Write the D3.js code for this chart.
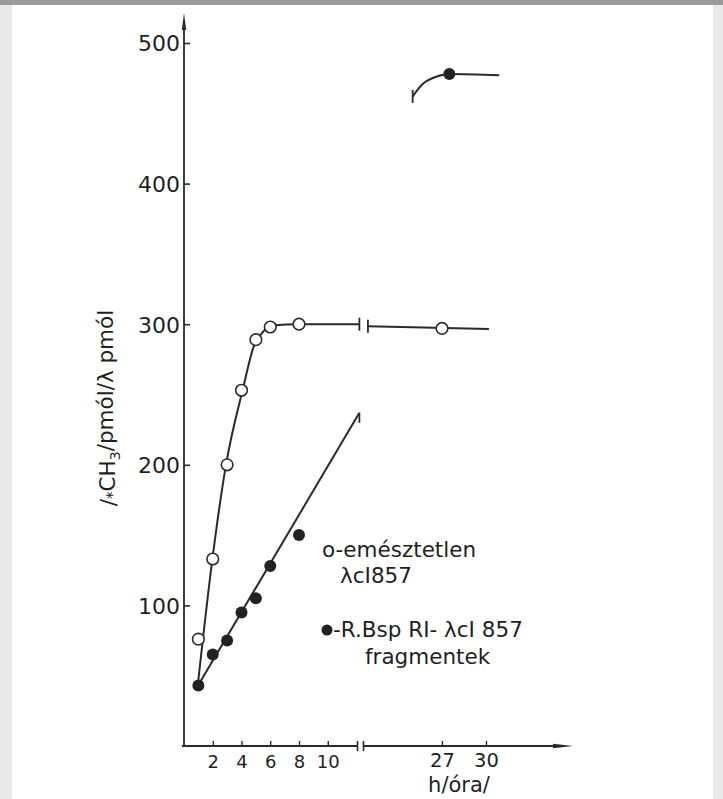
<!DOCTYPE html>
<html>
<head>
<meta charset="utf-8">
<script src="https://cdn.jsdelivr.net/npm/d3@7"></script>
<style>
  html, body { margin: 0; padding: 0; background: #ececec; }
  svg { display: block; }
  text { font-family: "DejaVu Sans", sans-serif; fill: #1f1f1f; }
</style>
</head>
<body>
<svg id="chart" width="723" height="799"></svg>
<script>
// ---------- data ----------
const hoursEarly   = [1, 2, 3, 4, 5, 6, 8];          // h, left segment
const undigested   = [76, 133, 200, 253, 289, 298, 300];
const fragments    = [43, 65, 75, 95, 105, 128, 150];
const hourLate     = [27];                            // h, right segment
const undigestedLate = [297];
const fragmentsLateHour = [27.5];
const fragmentsLate  = [478];

// hand-drawn fit curves (vertices)
const fitOpenX  = [0.95, 1.95, 2.92, 4.1, 4.85, 5.45, 6.1, 8.1, 12.2];
const fitOpenY  = [42.5, 131, 200, 254, 284, 294, 299, 300, 300];
const fitOpenLateX = [21.95, 30.2];
const fitOpenLateY = [298.5, 296.5];
const fitFilledX = [0.95, 12.2];
const fitFilledY = [42.5, 237];
const fitFilledLateX = [25.0, 25.7, 26.6, 27.5, 30.9];
const fitFilledLateY = [462, 471, 476, 478, 477];

const yTicks = [100, 200, 300, 400, 500];
const xTicksEarly = [2, 4, 6, 8, 10];
const xTicksLate = [27, 30];

const yTitle = ["/", "*", "CH", "3", "/pmól/λ pmól"];
const xTitle = "h/óra/";
const legend1 = ["o-emésztetlen", "λcI857"];
const legend2 = ["-R.Bsp RI- λcI 857", "fragmentek"];

// ---------- layout ----------
const svg = d3.select("#chart");
const ink = "#2a2a2a";

// paper
svg.append("rect").attr("x", 0).attr("y", 0).attr("width", 723).attr("height", 799).attr("fill", "#e9e9e9");
svg.append("rect").attr("x", 12).attr("y", 5).attr("width", 701).attr("height", 794).attr("fill", "#ffffff");
svg.append("rect").attr("x", 0).attr("y", 0).attr("width", 723).attr("height", 5).attr("fill", "#9a9a9a");

const y = d3.scaleLinear().domain([0, 500]).range([746, 43]);
const xL = d3.scaleLinear().domain([0, 10]).range([184, 327.75]);
const xR = d3.scaleLinear().domain([27, 30]).range([442, 486]);
const fmt = d3.format("d");

// y axis
const gy = svg.append("g").attr("transform", `translate(${xL(0)},0)`)
  .call(d3.axisLeft(y).tickValues(yTicks).tickFormat(fmt).tickSize(-6).tickPadding(4));
gy.select(".domain").remove();
gy.selectAll(".tick line").attr("stroke", ink).attr("stroke-width", 1.6);
gy.selectAll(".tick text").style("font-size", "22px").attr("fill", "#1f1f1f").attr("dy", "0.36em");
svg.append("line").attr("x1", xL(0)).attr("x2", xL(0)).attr("y1", y(0)).attr("y2", 22)
  .attr("stroke", ink).attr("stroke-width", 1.8);
svg.append("path").attr("d", `M${xL(0)},13 L${xL(0)-2.2},30 L${xL(0)+2.2},30 Z`).attr("fill", ink);

// x axis (broken)
const gxL = svg.append("g").attr("transform", `translate(0,${y(0)})`)
  .call(d3.axisBottom(xL).tickValues(xTicksEarly).tickFormat(fmt).tickSize(-5).tickPadding(9));
gxL.select(".domain").remove();
gxL.selectAll(".tick line").attr("stroke", ink).attr("stroke-width", 1.4);
gxL.selectAll(".tick text").style("font-size", "18px").attr("fill", "#1f1f1f");

const gxR = svg.append("g").attr("transform", `translate(0,${y(0)})`)
  .call(d3.axisBottom(xR).tickValues(xTicksLate).tickFormat(fmt).tickSize(-5).tickPadding(7));
gxR.select(".domain").remove();
gxR.selectAll(".tick line").attr("stroke", ink).attr("stroke-width", 1.4);
gxR.selectAll(".tick text").style("font-size", "19.5px").attr("fill", "#1f1f1f");

const ax0 = y(0);
svg.append("line").attr("x1", xL(0) - 2).attr("x2", 357.5).attr("y1", ax0).attr("y2", ax0).attr("stroke", ink).attr("stroke-width", 1.8);
svg.append("line").attr("x1", 363.5).attr("x2", 558).attr("y1", ax0).attr("y2", ax0).attr("stroke", ink).attr("stroke-width", 1.8);
[357.5, 363.5].forEach(bx => svg.append("line").attr("x1", bx).attr("x2", bx).attr("y1", ax0 - 5).attr("y2", ax0 + 5).attr("stroke", ink).attr("stroke-width", 1.6));
svg.append("path").attr("d", `M573,${ax0} L553,${ax0-2.3} L553,${ax0+2.3} Z`).attr("fill", ink);

// axis titles
svg.append("text").attr("x", 459).attr("y", 792).attr("text-anchor", "middle").style("font-size", "21px").text(xTitle);
const yt = svg.append("text").attr("transform", "translate(116,408) rotate(-90)").attr("text-anchor", "middle").style("font-size", "21.5px");
yt.append("tspan").text(yTitle[0]);
yt.append("tspan").attr("dy", "0.1em").style("font-size", "15px").text(yTitle[1]);
yt.append("tspan").attr("dy", "-0.1em").text(yTitle[2]);
yt.append("tspan").attr("dy", "0.3em").style("font-size", "14px").text(yTitle[3]);
yt.append("tspan").attr("dy", "-0.3em").text(yTitle[4]);

// fit lines
const lineL = d3.line().x(d => xL(d[0])).y(d => y(d[1])).curve(d3.curveMonotoneX);
const lineR = d3.line().x(d => xR(d[0])).y(d => y(d[1])).curve(d3.curveMonotoneX);
const zip = (a, b) => a.map((v, i) => [v, b[i]]);

svg.append("path").attr("d", lineL(zip(fitOpenX, fitOpenY))).attr("fill", "none").attr("stroke", ink).attr("stroke-width", 2);
svg.append("path").attr("d", lineR(zip(fitOpenLateX, fitOpenLateY))).attr("fill", "none").attr("stroke", ink).attr("stroke-width", 2);
svg.append("path").attr("d", lineL(zip(fitFilledX, fitFilledY))).attr("fill", "none").attr("stroke", ink).attr("stroke-width", 2);
svg.append("path").attr("d", lineR(zip(fitFilledLateX, fitFilledLateY))).attr("fill", "none").attr("stroke", ink).attr("stroke-width", 2);

// break bars on curves
function bar(px, py, h) {
  svg.append("line").attr("x1", px).attr("x2", px).attr("y1", py - h).attr("y2", py + h).attr("stroke", ink).attr("stroke-width", 1.8);
}
bar(xL(fitOpenX[fitOpenX.length - 1]), y(fitOpenY[fitOpenY.length - 1]), 6.5);
bar(xR(fitOpenLateX[0]), y(fitOpenLateY[0]), 6.5);
bar(xL(fitFilledX[1]), y(fitFilledY[1]) + 5, 5);
bar(xR(fitFilledLateX[0]), y(fitFilledLateY[0]), 6.5);

// markers
const openPts = zip(hoursEarly, undigested).map(d => [xL(d[0]), y(d[1])])
  .concat(zip(hourLate, undigestedLate).map(d => [xR(d[0]), y(d[1])]));
const filledPts = zip(hoursEarly, fragments).map(d => [xL(d[0]), y(d[1])])
  .concat(zip(fragmentsLateHour, fragmentsLate).map(d => [xR(d[0]), y(d[1])]));

svg.append("g").selectAll("circle").data(openPts).join("circle")
  .attr("cx", d => d[0]).attr("cy", d => d[1]).attr("r", 5.8)
  .attr("fill", "#fff").attr("stroke", ink).attr("stroke-width", 1.6);
svg.append("g").selectAll("circle").data(filledPts).join("circle")
  .attr("cx", d => d[0]).attr("cy", d => d[1]).attr("r", 6)
  .attr("fill", "#222");

// legend
svg.append("text").attr("x", 322).attr("y", 557).style("font-size", "21.5px").text(legend1[0]);
svg.append("text").attr("x", 340).attr("y", 583).style("font-size", "21.5px").text(legend1[1]);
svg.append("circle").attr("cx", 327).attr("cy", 630).attr("r", 5.5).attr("fill", "#222");
svg.append("text").attr("x", 333).attr("y", 637).style("font-size", "21.5px").text(legend2[0]);
svg.append("text").attr("x", 365).attr("y", 664).style("font-size", "21.5px").text(legend2[1]);
</script>
</body>
</html>
